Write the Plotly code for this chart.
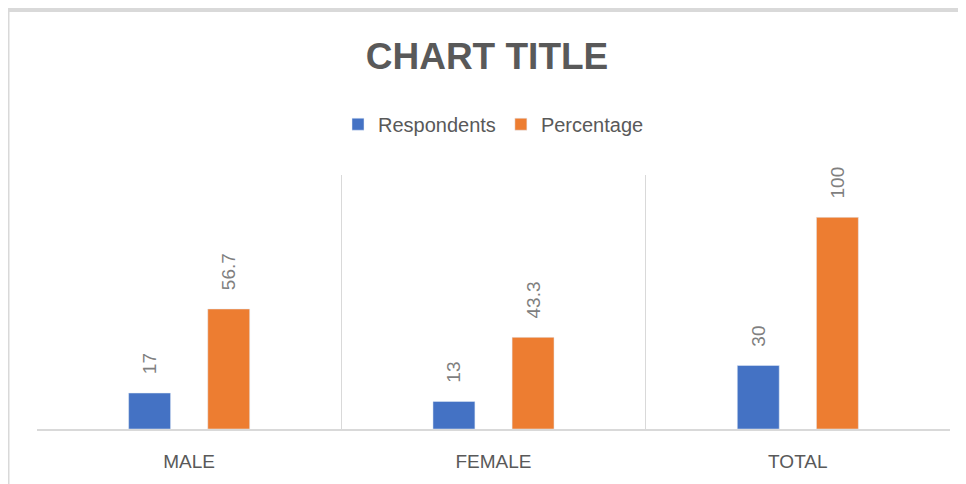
import plotly.graph_objects as go

categories = ["MALE", "FEMALE", "TOTAL"]
respondents = [17, 13, 30]
percentage = [56.7, 43.3, 100]

gray_text = "#595959"
label_gray = "#7f7f7f"
line_gray = "#d9d9d9"

fig = go.Figure()
fig.add_trace(go.Bar(
    x=categories, y=respondents, name="Respondents",
    marker_color="#4472C4",
    texttemplate="\u00a0\u00a0\u00a0%{y}", textposition="outside", textangle=-90,
    textfont=dict(color=label_gray, size=19), constraintext="none",
    cliponaxis=False,
))
fig.add_trace(go.Bar(
    x=categories, y=percentage, name="Percentage",
    marker_color="#ED7D31",
    texttemplate="\u00a0\u00a0\u00a0%{y}", textposition="outside", textangle=-90,
    textfont=dict(color=label_gray, size=19), constraintext="none",
    cliponaxis=False,
))

# page body adds 8px, so the figure is 958x476
fig.update_layout(
    width=958, height=476,
    margin=dict(l=29, r=16, t=167, b=52),
    paper_bgcolor="white", plot_bgcolor="white",
    font=dict(family="Liberation Sans, Arial, sans-serif", color=gray_text),
    title=dict(text="<b>CHART TITLE</b>", x=0.5, xanchor="center",
               y=1 - 48/476, yref="container", yanchor="middle",
               font=dict(size=37, color=gray_text)),
    legend=dict(orientation="h", x=0.5, xanchor="center", y=1.2, yanchor="middle",
                font=dict(size=20, color=gray_text), itemwidth=30),
    barmode="group", bargap=0.48, bargroupgap=0.47,
    showlegend=True,
)
fig.update_xaxes(
    showgrid=True, gridcolor=line_gray, gridwidth=1, tickson="boundaries",
    showline=True, linecolor=line_gray, linewidth=2,
    ticks="", ticklabelstandoff=14,
    tickfont=dict(size=19, color=gray_text),
)
fig.update_yaxes(range=[0, 120], showgrid=False, showticklabels=False,
                 zeroline=False, showline=False)

# outer chart border (top and left edges visible)
fig.add_shape(type="line", xref="paper", yref="paper",
              x0=-29/913, x1=1.02, y0=424/257, y1=424/257,
              line=dict(color=line_gray, width=4))
fig.add_shape(type="line", xref="paper", yref="paper",
              x0=-29/913, x1=-29/913, y0=424/257, y1=-0.3,
              line=dict(color=line_gray, width=3))

fig.write_html("out.html")
